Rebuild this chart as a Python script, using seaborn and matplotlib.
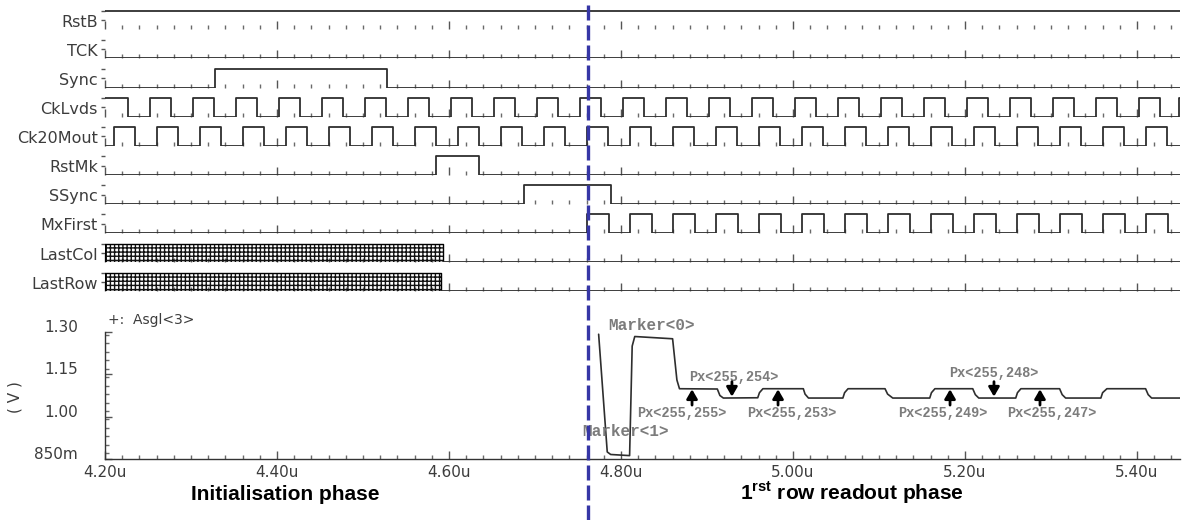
import matplotlib
matplotlib.use("Agg")
import matplotlib.pyplot as plt
import matplotlib.transforms as mtrans
from matplotlib.lines import Line2D
from matplotlib.ticker import MultipleLocator, FixedLocator
import seaborn as sns

# ---------------- data ----------------
T_START, T_END = 4.20, 5.45          # time window (us)
marker_time = 4.762                  # blue dashed marker (us)

signal_names = ["RstB", "TCK", "Sync", "CkLvds", "Ck20Mout",
                "RstMk", "SSync", "MxFirst", "LastCol", "LastRow"]

rstb_init, rstb_toggles = 1, []
tck_init, tck_toggles = 0, []
sync_init, sync_toggles = 0, [4.328, 4.528]
cklvds_init = 1
cklvds_toggles = [4.227, 4.252, 4.277, 4.302, 4.327, 4.352, 4.377, 4.402, 4.427, 4.452,
                  4.477, 4.502, 4.527, 4.552, 4.577, 4.602, 4.627, 4.652, 4.677, 4.702,
                  4.727, 4.752, 4.777, 4.802, 4.827, 4.852, 4.877, 4.902, 4.927, 4.952,
                  4.977, 5.002, 5.027, 5.052, 5.077, 5.102, 5.127, 5.152, 5.177, 5.202,
                  5.227, 5.252, 5.277, 5.302, 5.327, 5.352, 5.377, 5.402, 5.427, 5.449]
ck20_init = 0
ck20_toggles = [4.210, 4.235, 4.260, 4.285, 4.310, 4.335, 4.360, 4.385, 4.410, 4.435,
                4.460, 4.485, 4.510, 4.535, 4.560, 4.585, 4.610, 4.635, 4.660, 4.685,
                4.710, 4.735, 4.760, 4.785, 4.810, 4.835, 4.860, 4.885, 4.910, 4.935,
                4.960, 4.985, 5.010, 5.035, 5.060, 5.085, 5.110, 5.135, 5.160, 5.185,
                5.210, 5.235, 5.260, 5.285, 5.310, 5.335, 5.360, 5.385, 5.410, 5.435]
rstmk_init, rstmk_toggles = 0, [4.585, 4.635]
ssync_init, ssync_toggles = 0, [4.687, 4.788]
mxfirst_init = 0
mxfirst_toggles = [4.761, 4.786, 4.811, 4.836, 4.861, 4.886, 4.911, 4.936, 4.961, 4.986,
                   5.011, 5.036, 5.061, 5.086, 5.111, 5.136, 5.161, 5.186, 5.211, 5.236,
                   5.261, 5.286, 5.311, 5.336, 5.361, 5.386, 5.411, 5.436]
lastcol_unknown_until = 4.593      # undefined (X) state until this time, then low
lastrow_unknown_until = 4.591

# analog trace Asgl<3>
asgl_t = [4.774, 4.784, 4.788, 4.810, 4.813, 4.816, 4.860, 4.865, 4.868, 4.912, 4.915,
          4.919, 4.959, 4.961, 4.965, 5.012, 5.014, 5.018, 5.058, 5.060, 5.064, 5.107,
          5.110, 5.116, 5.159, 5.161, 5.165, 5.209, 5.212, 5.216, 5.259, 5.261, 5.265,
          5.310, 5.313, 5.317, 5.358, 5.360, 5.365, 5.410, 5.413, 5.417, 5.45]
asgl_v = [1.292, 0.875, 0.866, 0.862, 1.250, 1.284, 1.276, 1.130, 1.099, 1.098, 1.075,
          1.066, 1.067, 1.085, 1.099, 1.099, 1.080, 1.066, 1.066, 1.085, 1.099, 1.099,
          1.080, 1.066, 1.066, 1.085, 1.099, 1.099, 1.078, 1.066, 1.066, 1.085, 1.099,
          1.099, 1.078, 1.066, 1.066, 1.085, 1.099, 1.099, 1.078, 1.066, 1.066]

x_ticks = [4.20, 4.40, 4.60, 4.80, 5.00, 5.20, 5.40]
x_tick_labels = ["4.20u", "4.40u", "4.60u", "4.80u", "5.00u", "5.20u", "5.40u"]
y_ticks = [0.85, 1.00, 1.15, 1.30]
y_tick_labels = ["850m", "1.00", "1.15", "1.30"]

marker_labels = ["Marker<0>", "Marker<1>"]
marker_label_t = [4.835, 4.805]
marker_label_v = [1.322, 0.949]

px_labels = ["Px<255,255>", "Px<255,254>", "Px<255,253>",
             "Px<255,249>", "Px<255,248>", "Px<255,247>"]
px_label_t = [4.871, 4.931, 4.999, 5.174, 5.234, 5.301]
px_label_v = [1.013, 1.141, 1.013, 1.013, 1.155, 1.013]
px_arrow_t = [4.8826, 4.929, 4.9826, 5.1826, 5.2337, 5.2872]
px_arrow_dir = ["up", "down", "up", "up", "down", "up"]

# ---------------- style ----------------
sns.set_theme(style="white")
plt.rcParams["font.family"] = ["DejaVu Sans"]
plt.rcParams["hatch.linewidth"] = 1.0
plt.rcParams["mathtext.fontset"] = "custom"
plt.rcParams["mathtext.bf"] = "Liberation Sans:bold"
plt.rcParams["mathtext.rm"] = "Liberation Sans:bold"

W, H = 1195, 520
fig = plt.figure(figsize=(W / 100, H / 100), dpi=100)
fig.patch.set_facecolor("white")

X0, X1 = 105, 1180
LINE = "#2e2e2e"
TICK = "#555555"
MINOR = "#6a6a6a"
TXT = "#3c3c3c"


def step_xy(init, toggles):
    xs, ys, lvl = [T_START], [init], init
    for t in toggles:
        lvl = 1 - lvl
        xs.append(t)
        ys.append(lvl)
    xs.append(T_END)
    ys.append(lvl)
    return xs, ys


digital = {
    "RstB": (rstb_init, rstb_toggles),
    "TCK": (tck_init, tck_toggles),
    "Sync": (sync_init, sync_toggles),
    "CkLvds": (cklvds_init, cklvds_toggles),
    "Ck20Mout": (ck20_init, ck20_toggles),
    "RstMk": (rstmk_init, rstmk_toggles),
    "SSync": (ssync_init, ssync_toggles),
    "MxFirst": (mxfirst_init, mxfirst_toggles),
}
unknown = {"LastCol": lastcol_unknown_until, "LastRow": lastrow_unknown_until}

AMP = 18.6        # px between low and high level
ROW_H = 20.0
for i, name in enumerate(signal_names):
    base = 29.3 + 29.1 * i
    ax = fig.add_axes([X0 / W, 1 - base / H, (X1 - X0) / W, ROW_H / H])
    ax.set_xlim(T_START, T_END)
    ax.set_ylim(0, ROW_H / AMP)
    ax.patch.set_alpha(0)
    for s in ax.spines.values():
        s.set_visible(False)
    if name in digital:
        init, tog = digital[name]
        xs, ys = step_xy(init, tog)
        sns.lineplot(x=xs, y=ys, ax=ax, drawstyle="steps-post", color=LINE,
                     lw=1.3, estimator=None, sort=False, legend=False)
    else:
        tu = unknown[name]
        ax.fill_between([T_START, tu], [0, 0], [1, 1], facecolor="none",
                        edgecolor="#111111", hatch="++++", linewidth=0.0)
        sns.lineplot(x=[T_START, tu, tu, T_START, T_START], y=[0, 0, 1, 1, 0], ax=ax,
                     color="black", lw=1.0, estimator=None, sort=False, legend=False)
        sns.lineplot(x=[tu, T_END], y=[0, 0], ax=ax, color=LINE, lw=1.3,
                     estimator=None, sort=False, legend=False)
    ax.set_xlabel("")
    ax.set_ylabel("")
    ax.xaxis.set_major_locator(FixedLocator(x_ticks))
    ax.xaxis.set_minor_locator(MultipleLocator(0.02))
    ax.tick_params(axis="x", which="major", bottom=True, direction="in", length=6,
                   width=1.0, color=TICK, labelbottom=False)
    ax.tick_params(axis="x", which="minor", bottom=True, direction="in", length=3,
                   width=1.0, color=MINOR)
    ax.set_yticks([0.5, 1.0])
    ax.tick_params(axis="y", which="major", left=True, direction="out", length=3,
                   width=1.0, color=TICK, labelleft=False)
    ax.text(0, 0.38, name,
            transform=mtrans.offset_copy(ax.get_yaxis_transform(), fig=fig,
                                         x=-7, y=0, units="dots"),
            ha="right", va="center", fontsize=11.5, color=TXT)

# ---------------- analog panel ----------------
axa = fig.add_axes([X0 / W, 1 - 459 / H, (X1 - X0) / W, 127 / H])
axa.patch.set_alpha(0)
sns.lineplot(x=asgl_t, y=asgl_v, ax=axa, color=LINE, lw=1.2, estimator=None,
             sort=False, legend=False)
axa.set_xlim(T_START, T_END)
axa.set_ylim(0.85, 1.30)
axa.set_xlabel("")
axa.set_ylabel("")
for side in ["top", "right"]:
    axa.spines[side].set_visible(False)
for side in ["left", "bottom"]:
    axa.spines[side].set_color("#333333")
    axa.spines[side].set_linewidth(1.0)
axa.set_xticks(x_ticks)
axa.set_xticklabels(x_tick_labels)
axa.xaxis.set_minor_locator(MultipleLocator(0.02))
axa.set_yticks(y_ticks)
axa.set_yticklabels(y_tick_labels)
axa.yaxis.set_minor_locator(MultipleLocator(0.03))
axa.tick_params(axis="x", which="major", direction="in", length=6, width=1.0,
                color=TICK, labelsize=11, labelcolor=TXT, pad=4, bottom=True)
axa.tick_params(axis="x", which="minor", direction="in", length=3, width=1.0,
                color=MINOR, bottom=True)
axa.tick_params(axis="y", which="major", direction="in", length=5, width=1.0,
                color=TICK, labelsize=11, labelcolor=TXT, pad=19.5, left=True)
axa.tick_params(axis="y", which="minor", direction="in", length=3, width=1.0,
                color=MINOR, left=True)
for lab in axa.get_yticklabels():
    lab.set_verticalalignment("baseline")

fig.text(15 / W, 1 - 397 / H, "( V )", rotation=90, ha="center", va="center",
         fontsize=11, color=TXT)
fig.text(108 / W, 1 - 320 / H, "+:  Asgl<3>", ha="left", va="center",
         fontsize=10, color=TXT)

for lab, t, v in zip(marker_labels, marker_label_t, marker_label_v):
    axa.text(t, v, lab, ha="center", va="center", family="Liberation Mono",
             fontweight="bold", fontsize=11.5, color="#7c7c7c", clip_on=False)
for lab, t, v in zip(px_labels, px_label_t, px_label_v):
    axa.text(t, v, lab, ha="center", va="center", family="Liberation Mono",
             fontweight="bold", fontsize=9.8, color="#7c7c7c", clip_on=False)
for t, d in zip(px_arrow_t, px_arrow_dir):
    if d == "up":
        tail, tip = 1.041, 1.097
    else:
        tail, tip = 1.124, 1.071
    axa.annotate("", xy=(t, tip), xytext=(t, tail),
                 arrowprops=dict(arrowstyle="-|>,head_width=0.32,head_length=0.55",
                                 color="black", lw=2.0, mutation_scale=10,
                                 shrinkA=0, shrinkB=0))

# phase labels
fig.text(285 / W, 1 - 500 / H, "Initialisation phase", ha="center", va="baseline",
         family="Liberation Sans", fontweight="bold", fontsize=15, color="black")
fig.text(852 / W, 1 - 500 / H, r"1$^{\mathbf{rst}}$ row readout phase", ha="center",
         va="baseline", family="Liberation Sans", fontweight="bold", fontsize=15,
         color="black")

# blue dashed marker across the whole figure
blend = mtrans.blended_transform_factory(axa.transData, fig.transFigure)
fig.add_artist(Line2D([marker_time, marker_time], [0, 1], transform=blend,
                      color="#3636A6", lw=2.4, linestyle=(0, (4.5, 1.5)),
                      clip_on=False, zorder=10))

fig.savefig("out.png", dpi=100, facecolor="white")
